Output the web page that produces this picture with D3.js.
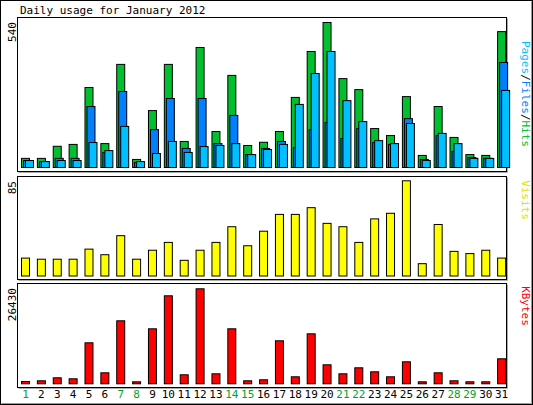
<!DOCTYPE html>
<html><head><meta charset="utf-8">
<script src="https://cdn.jsdelivr.net/npm/d3@7"></script>
<style>body{margin:0;background:#fff}text{font-family:"DejaVu Sans Mono",monospace;font-size:11px}</style>
</head><body><div id="chart"></div>
<script>
const days = d3.range(1, 32);
const weekends = [1, 7, 8, 14, 15, 21, 22, 28, 29];
const hits = [34,34,79,86,298,89,384,30,212,384,97,447,134,343,82,94,134,261,432,540,331,290,145,119,264,45,227,112,48,45,506];
const files = [26,22,34,34,227,56,283,19,141,257,71,257,89,194,48,71,97,74,141,168,108,145,93,86,182,30,119,60,37,34,391];
const pages = [26,22,26,26,93,63,153,22,52,97,56,78,82,89,48,67,86,235,350,432,249,171,100,89,164,26,127,89,34,34,287];
const visits = [16,15,15,15,24,19,36,15,23,30,14,23,30,44,27,40,55,55,61,47,44,30,51,56,85,11,46,22,20,23,16];
const kbytes = [649,835,1669,1391,11406,3060,17527,556,15301,24482,2504,26430,2782,15301,835,1113,11963,1947,13910,5286,2782,4451,3338,1947,6120,556,3060,835,556,556,6955];

const W = 533, H = 405;
const svg = d3.select("#chart").append("svg").attr("width", W).attr("height", H);

// outer frame
svg.append("rect").attr("x", 0.5).attr("y", 0.5).attr("width", W - 1).attr("height", H - 1)
  .attr("fill", "none").attr("stroke", "#000");
svg.append("path").attr("d", `M1.5,${H-1.5}H${W-1.5}V1.5`).attr("fill", "none").attr("stroke", "#999");

svg.append("text").attr("x", 20).attr("y", 14).text("Daily usage for January 2012");

const x = d3.scaleBand().domain(days).range([18, 510]).paddingInner(0);

function frame(y0, y1) {
  svg.append("rect").attr("x", 17.5).attr("y", y0 + 0.5).attr("width", 489).attr("height", y1 - y0)
    .attr("fill", "none").attr("stroke", "#000");
  svg.append("path").attr("d", `M18.5,${y1+1.5}H${507.5}V${y0+1.5}`).attr("fill", "none").attr("stroke", "#aaa");
}

function sideLabel(yc, parts) {
  const t = svg.append("text").attr("transform", `translate(526,${yc}) rotate(90)`)
    .attr("text-anchor", "middle").attr("dominant-baseline", "central");
  parts.forEach(p => t.append("tspan").attr("fill", p[1]).text(p[0]));
}
function maxLabel(y, txt) {
  svg.append("text").attr("transform", `translate(12,${y}) rotate(-90)`)
    .attr("text-anchor", "end").attr("dominant-baseline", "central").text(txt);
}

function bars(data, y, off, w, color) {
  svg.append("g").selectAll("rect").data(data).enter().append("rect")
    .attr("x", (d, i) => x(days[i]) + off + 0.5)
    .attr("y", d => y(d) + 0.5)
    .attr("width", w)
    .attr("height", d => Math.max(0, y(0) - y(d)))
    .attr("fill", color).attr("stroke", "#000");
}

// top panel
frame(17, 171);
const y1 = d3.scaleLinear().domain([0, 540]).range([167, 22]);
bars(hits, y1, 3, 8, "#00c030");
bars(files, y1, 5, 8, "#0080ff");
bars(pages, y1, 7, 8, "#00c0ff");
maxLabel(22, "540");
sideLabel(94, [["Pages", "#00c0ff"], ["/", "#000"], ["Files", "#0080ff"], ["/", "#000"], ["Hits", "#00c030"]]);

// visits
frame(176, 279);
const y2 = d3.scaleLinear().domain([0, 85]).range([275.5, 180.3]);
bars(visits, y2, 3, 8, "#ffff00");
maxLabel(181, "85");
sideLabel(200, [["Visits", "#e0e000"]]);

// kbytes
frame(283, 387);
const y3 = d3.scaleLinear().domain([0, 26430]).range([383.3, 288.3]);
bars(kbytes, y3, 3, 8, "#ff0000");
maxLabel(288, "26430");
sideLabel(306, [["KBytes", "#ff0000"]]);

svg.append("g").selectAll("text").data(days).enter().append("text")
  .attr("x", d => x(d) + 7.5).attr("y", 398).attr("text-anchor", "middle")
  .attr("fill", d => weekends.includes(d) ? "#00a030" : "#000")
  .text(d => d);
</script></body></html>
